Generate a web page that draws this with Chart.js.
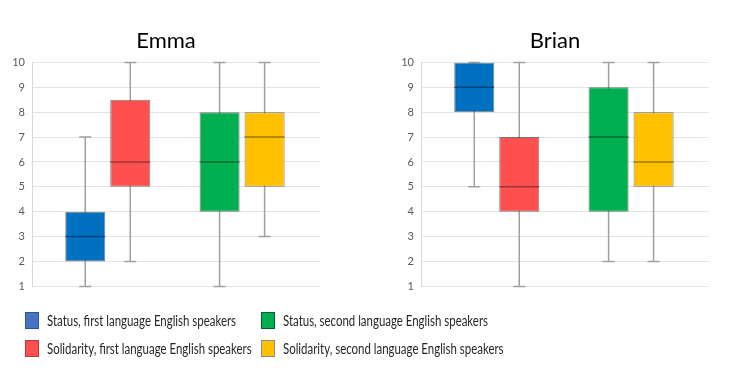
<!DOCTYPE html>
<html>
<head>
<meta charset="utf-8">
<script src="https://cdn.jsdelivr.net/npm/chart.js@4/dist/chart.umd.min.js"></script>
<style>
  html, body { margin: 0; padding: 0; background: #fff; }
  body { width: 754px; height: 387px; position: relative; overflow: hidden; font-family: Lato, "Open Sans", sans-serif; }
  .panel { position: absolute; top: 0; height: 300px; }
  #emmaWrap { left: 0; width: 344px; }
  #brianWrap { left: 385px; width: 348px; }
  .legend { position: absolute; left: 0; top: 0; width: 754px; height: 387px; pointer-events: none; }
  .item { position: absolute; display: flex; align-items: center; font-size: 15.5px; color: #262626; white-space: nowrap; }
  .sw { width: 14px; height: 17px; margin-right: 8px; box-sizing: border-box; border: 1px solid; flex: none; }
  .txt { display: inline-block; transform-origin: 0 50%; }
</style>
</head>
<body>
<div class="panel" id="emmaWrap"><canvas id="emma"></canvas></div>
<div class="panel" id="brianWrap"><canvas id="brian"></canvas></div>
<div class="legend" id="legend"></div>
<script>
// ---- Data ----
const groups = ['First language English speakers', 'Second language English speakers'];
const groupIndex = [0, 1];
const yTicks = [1, 2, 3, 4, 5, 6, 7, 8, 9, 10];

// Emma: [first language, second language]
const emmaStatusMin = [1, 1];
const emmaStatusQ1 = [2, 4];
const emmaStatusMedian = [3, 6];
const emmaStatusQ3 = [4, 8];
const emmaStatusMax = [7, 10];
const emmaSolidarityMin = [2, 3];
const emmaSolidarityQ1 = [5, 5];
const emmaSolidarityMedian = [6, 7];
const emmaSolidarityQ3 = [8.5, 8];
const emmaSolidarityMax = [10, 10];

// Brian
const brianStatusMin = [5, 2];
const brianStatusQ1 = [8, 4];
const brianStatusMedian = [9, 7];
const brianStatusQ3 = [10, 9];
const brianStatusMax = [10, 10];
const brianSolidarityMin = [1, 2];
const brianSolidarityQ1 = [4, 5];
const brianSolidarityMedian = [5, 6];
const brianSolidarityQ3 = [7, 8];
const brianSolidarityMax = [10, 10];

const legendLabels = [
  'Status, first language English speakers',
  'Solidarity, first language English speakers',
  'Status, second language English speakers',
  'Solidarity, second language English speakers'
];

// ---- Styles ----
const statusColors = ['#0070C0', '#00B050'];
const solidarityColors = ['#FF5050', '#FFC000'];
const legendColors = ['#4472C4', '#FF5050', '#00B050', '#FFC000'];
const legendBorders = ['#2F528F', '#B03A3A', '#00602C', '#8C8C8C'];

function makeDataset(label, q1, q3, mins, meds, maxs, colors) {
  return {
    label,
    data: groupIndex.map((x, i) => ({ x, y: [q1[i], q3[i]] })),
    stats: { min: mins, median: meds, max: maxs },
    backgroundColor: colors,
    borderColor: 'rgba(0,0,0,0.5)',
    borderWidth: 1,
    borderSkipped: false,
    categoryPercentage: 0.67,
    barPercentage: 0.89
  };
}

const boxPlugin = {
  id: 'boxWhiskers',
  beforeDatasetsDraw(chart) {
    const ctx = chart.ctx;
    const y = chart.scales.y;
    ctx.save();
    ctx.strokeStyle = '#a0a0a0';
    ctx.lineWidth = 1.5;
    chart.data.datasets.forEach((ds, di) => {
      const meta = chart.getDatasetMeta(di);
      meta.data.forEach((el, i) => {
        const x = el.x;
        const yMin = y.getPixelForValue(ds.stats.min[i]);
        const yMax = y.getPixelForValue(ds.stats.max[i]);
        ctx.beginPath();
        ctx.moveTo(x, yMin); ctx.lineTo(x, yMax);
        ctx.moveTo(x - 6, yMin); ctx.lineTo(x + 6, yMin);
        ctx.moveTo(x - 6, yMax); ctx.lineTo(x + 6, yMax);
        ctx.stroke();
      });
    });
    ctx.restore();
  },
  afterDatasetsDraw(chart) {
    const ctx = chart.ctx;
    const y = chart.scales.y;
    ctx.save();
    ctx.strokeStyle = 'rgba(0,0,0,0.38)';
    ctx.lineWidth = 1.5;
    chart.data.datasets.forEach((ds, di) => {
      const meta = chart.getDatasetMeta(di);
      meta.data.forEach((el, i) => {
        const ym = y.getPixelForValue(ds.stats.median[i]);
        ctx.beginPath();
        ctx.moveTo(el.x - el.width / 2, ym);
        ctx.lineTo(el.x + el.width / 2, ym);
        ctx.stroke();
      });
    });
    ctx.restore();
  }
};

function makeChart(id, title, datasets, padLeft) {
  return new Chart(document.getElementById(id), {
    type: 'bar',
    data: { datasets },
    plugins: [boxPlugin],
    options: {
      responsive: true,
      maintainAspectRatio: false,
      animation: false,
      layout: { padding: { left: padLeft, right: 24, top: 0, bottom: 8 } },
      plugins: {
        legend: { display: false },
        tooltip: { enabled: false },
        title: {
          display: true,
          text: title,
          color: '#000',
          font: { family: 'Lato, "Open Sans", sans-serif', size: 22, weight: 'normal' },
          padding: { top: 28, bottom: 8 }
        }
      },
      scales: {
        x: {
          type: 'linear',
          display: false,
          offset: false,
          min: -0.564,
          max: 1.58,
          ticks: { includeBounds: false, stepSize: 1 },
          afterBuildTicks(scale) { scale.ticks = groupIndex.map(v => ({ value: v })); },
          grid: { display: false, offset: false }
        },
        y: {
          min: 1,
          max: 10,
          afterBuildTicks(scale) { scale.ticks = yTicks.map(v => ({ value: v })); },
          afterFit(scale) { scale.width = 20; },
          ticks: { color: '#595959', font: { family: 'Lato, "Open Sans", sans-serif', size: 11 }, padding: 7 },
          grid: { color: '#e4e4e4', drawTicks: false, lineWidth: 1 },
          border: { color: '#d9d9d9' }
        }
      }
    }
  });
}

makeChart('emma', 'Emma', [
  makeDataset('Status', emmaStatusQ1, emmaStatusQ3, emmaStatusMin, emmaStatusMedian, emmaStatusMax, statusColors),
  makeDataset('Solidarity', emmaSolidarityQ1, emmaSolidarityQ3, emmaSolidarityMin, emmaSolidarityMedian, emmaSolidarityMax, solidarityColors)
], 12);

makeChart('brian', 'Brian', [
  makeDataset('Status', brianStatusQ1, brianStatusQ3, brianStatusMin, brianStatusMedian, brianStatusMax, statusColors),
  makeDataset('Solidarity', brianSolidarityQ1, brianSolidarityQ3, brianSolidarityMin, brianSolidarityMedian, brianSolidarityMax, solidarityColors)
], 16);

// ---- Legend ----
const legendPos = [[25, 320], [25, 348], [261, 320], [261, 348]];
const firstLabelTargetWidth = 189;
const legendEl = document.getElementById('legend');
const txtEls = [];
legendLabels.forEach((t, i) => {
  const d = document.createElement('div');
  d.className = 'item';
  d.style.left = legendPos[i][0] + 'px';
  d.style.top = (legendPos[i][1] - 11) + 'px';
  d.style.height = '22px';
  const s = document.createElement('span');
  s.className = 'sw';
  s.style.background = legendColors[i];
  s.style.borderColor = legendBorders[i];
  const txt = document.createElement('span');
  txt.className = 'txt';
  txt.textContent = t;
  d.appendChild(s); d.appendChild(txt);
  legendEl.appendChild(d);
  txtEls.push(txt);
});
const w0 = txtEls[0].getBoundingClientRect().width;
const sx = w0 > 0 ? firstLabelTargetWidth / w0 : 1;
txtEls.forEach(el => { el.style.transform = 'scaleX(' + sx.toFixed(3) + ')'; });
</script>
</body>
</html>
